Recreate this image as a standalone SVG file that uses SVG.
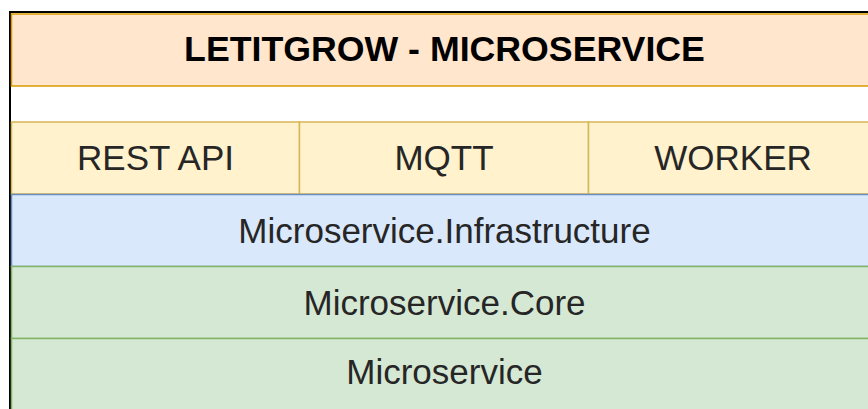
<svg xmlns="http://www.w3.org/2000/svg" width="868" height="409" viewBox="0 0 868 409">
  <style>
    .frame { fill: #ffffff; stroke: #000000; stroke-width: 2; }
    .head { fill: #ffe6cc; stroke: #d79b00; stroke-width: 1.5; }
    .entry { fill: #fff2cc; stroke: #d6b656; stroke-width: 1.5; }
    .infra { fill: #dae8fc; stroke: #6c8ebf; stroke-width: 1.5; }
    .core { fill: #d5e8d4; stroke: #82b366; stroke-width: 1.5; }
    text { font-family: "Liberation Sans", Arial, sans-serif; font-size: 35px; text-anchor: middle; fill: #262626; }
    .title { font-weight: bold; font-size: 35.7px; fill: #000000; }
  </style>
  <!-- outer frame -->
  <rect class="frame" x="10" y="12" width="900" height="460"/>
  <g id="header">
    <rect class="head" x="11.5" y="14" width="866" height="72"/>
    <text class="title" x="444.5" y="61">LETITGROW - MICROSERVICE</text>
  </g>
  <g id="rest-api">
    <rect class="entry" x="11.5" y="122" width="288" height="72"/>
    <text x="155.5" y="170">REST API</text>
  </g>
  <g id="mqtt">
    <rect class="entry" x="299.5" y="122" width="289" height="72"/>
    <text x="444" y="170">MQTT</text>
  </g>
  <g id="worker">
    <rect class="entry" x="588.5" y="122" width="289" height="72"/>
    <text x="733" y="170">WORKER</text>
  </g>
  <g id="infrastructure">
    <rect class="infra" x="11.5" y="194.5" width="866" height="72"/>
    <text x="444.5" y="243">Microservice.Infrastructure</text>
  </g>
  <g id="core">
    <rect class="core" x="11.5" y="266.5" width="866" height="72"/>
    <text x="444.5" y="315">Microservice.Core</text>
  </g>
  <g id="microservice">
    <rect class="core" x="11.5" y="338.5" width="866" height="72"/>
    <text x="444.5" y="384">Microservice</text>
  </g>
  <g id="connectors"/>
</svg>
